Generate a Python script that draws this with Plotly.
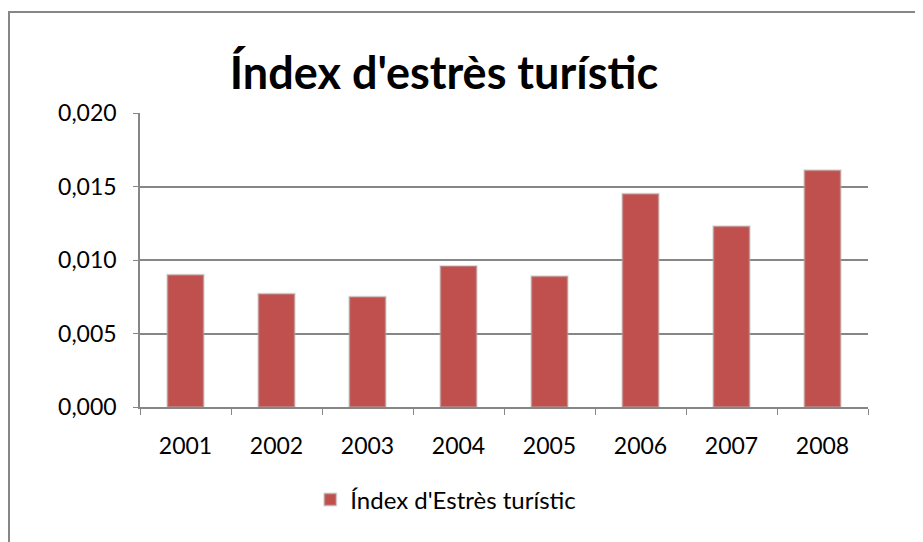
import plotly.graph_objects as go

years = ["2001", "2002", "2003", "2004", "2005", "2006", "2007", "2008"]
stress_index = [0.0090, 0.0077, 0.0075, 0.0096, 0.0089, 0.0145, 0.0123, 0.0161]

series_name = "Índex d'Estrès turístic"
chart_title = "Índex d'estrès turístic"

bar_color = "#C0504D"
grid_color = "#868686"
font_family = "Lato, 'Open Sans', sans-serif"

# page body has an 8px margin, so the plot area is placed 8px up/left
plot_w, plot_h = 728, 294
left, top = 132, 105

fig = go.Figure()
fig.add_trace(go.Bar(
    x=years,
    y=stress_index,
    name=series_name,
    marker=dict(color=bar_color, line=dict(color="rgba(180,180,180,0.45)", width=2)),
    showlegend=True,
))

fig.update_layout(
    width=923,
    height=542,
    margin=dict(l=left, r=923 - left - plot_w, t=top, b=542 - top - plot_h),
    paper_bgcolor="white",
    plot_bgcolor="white",
    separators=",.",
    bargap=0.6,
    font=dict(family=font_family, size=23, color="black"),
    title=dict(
        text="<b>" + chart_title + "</b>",
        font=dict(family=font_family, size=45, color="black"),
        x=(444 - 140) / plot_w, xref="paper", xanchor="center",
        y=1 - 65 / 542, yref="container", yanchor="middle",
    ),
    legend=dict(
        orientation="h",
        x=0.42, xanchor="center",
        y=-0.316, yanchor="middle",
        font=dict(family=font_family, size=24),
    ),
    xaxis=dict(
        showline=True, linecolor=grid_color, linewidth=1.5,
        ticks="outside", tickson="boundaries", ticklen=6, tickcolor=grid_color,
        ticklabelstandoff=18,
        showgrid=False,
    ),
    yaxis=dict(
        range=[0, 0.020], dtick=0.005, tickformat=".3f",
        showline=True, linecolor=grid_color, linewidth=1.5,
        ticks="outside", ticklen=5, tickcolor=grid_color,
        ticklabelstandoff=12,
        showgrid=True, gridcolor=grid_color, gridwidth=1.5,
        zeroline=False,
    ),
    shapes=[dict(
        type="rect", xref="paper", yref="paper",
        x0=(1 - left) / plot_w, x1=(912 - left) / plot_w,
        y0=-0.6, y1=(top + plot_h - 4) / plot_h,
        line=dict(color=grid_color, width=2), fillcolor="rgba(0,0,0,0)",
        layer="below",
    )],
)

fig.write_html("out.html")
